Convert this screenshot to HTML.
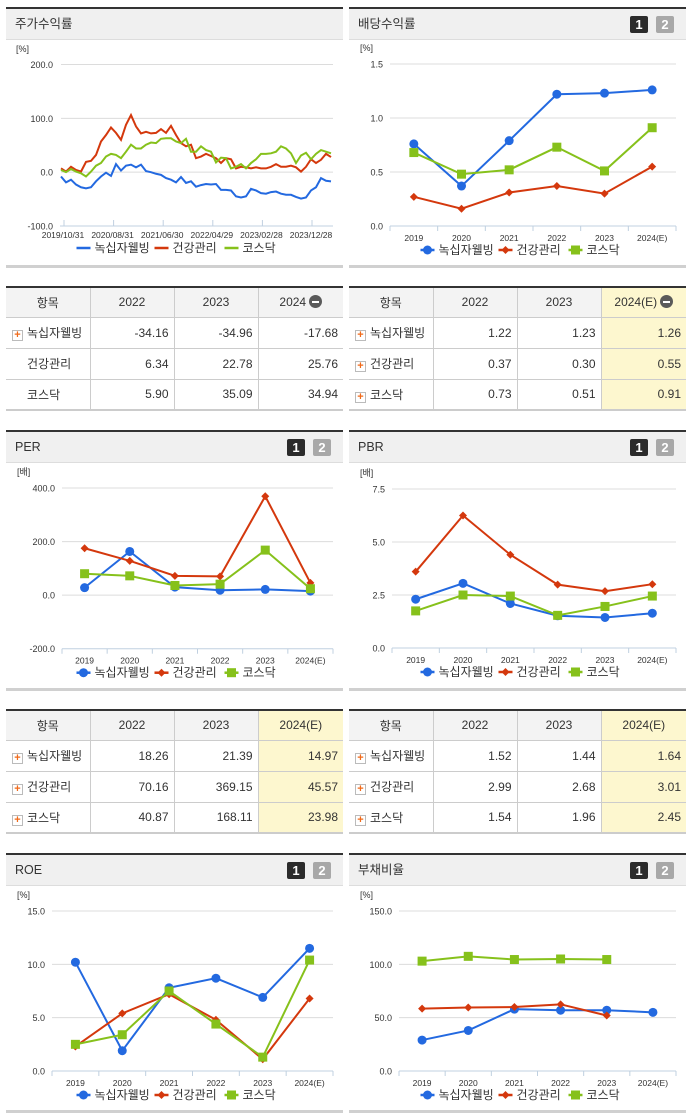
<!DOCTYPE html>
<html><head><meta charset="utf-8">
<style>
*{box-sizing:border-box;margin:0;padding:0}
body{width:691px;height:1115px;background:#fff;position:relative;overflow:hidden;font-family:"Liberation Sans","Noto Sans CJK KR",sans-serif;color:#333}
.hdr{position:absolute;height:33px;background:#f0f0f0;border-top:2px solid #333;border-bottom:1px solid #ddd;font-size:12.5px;line-height:30px;padding-left:9px;color:#333}
.b1,.b2{position:absolute;top:7px;width:18px;height:17px;border-radius:2px;color:#fff;font-size:13px;font-weight:bold;line-height:17px;text-align:center}
.b1{right:38px;background:#2b2b2b}.b2{right:12px;background:#a8a8a8}
.sep{position:absolute;height:3px;background:#d0d0d0}
table{position:absolute;border-collapse:collapse;border-top:2px solid #333;border-bottom:2px solid #ccc;font-size:12px;table-layout:fixed}
th{background:#f3f3f3;font-weight:normal;height:30px;border:1px solid #ccc;border-top:none;text-align:center}
td{height:31px;border:1px solid #ccc;text-align:right;padding-right:5px}
th:first-child,td:first-child{border-left:none}th:last-child,td:last-child{border-right:none}
td.n{text-align:left;padding-left:6px}
.hl{background:#fdf7cf}
.pl{display:inline-block;width:11px;height:11px;border:1px solid #bbb;background:#fff;color:#f06a1a;font-size:11px;line-height:9px;text-align:center;font-weight:bold;vertical-align:-1px;margin-right:4px}
.mi{display:inline-block;width:13px;height:13px;border-radius:50%;background:#5a5a5a;vertical-align:-2px;margin-left:3px;position:relative}
.mi:after{content:"";position:absolute;left:3px;top:5.5px;width:7px;height:2px;background:#fff}
svg{position:absolute;left:0;top:0}
</style></head><body>

<div class="hdr" style="left:6px;top:7px;width:337px">주가수익률</div>
<div class="hdr" style="left:349px;top:7px;width:337px">배당수익률<span class="b1">1</span><span class="b2">2</span></div>
<div class="hdr" style="left:6px;top:430px;width:337px">PER<span class="b1">1</span><span class="b2">2</span></div>
<div class="hdr" style="left:349px;top:430px;width:337px">PBR<span class="b1">1</span><span class="b2">2</span></div>
<div class="hdr" style="left:6px;top:853px;width:337px">ROE<span class="b1">1</span><span class="b2">2</span></div>
<div class="hdr" style="left:349px;top:853px;width:337px">부채비율<span class="b1">1</span><span class="b2">2</span></div>

<div class="sep" style="left:6px;top:265px;width:337px"></div>
<div class="sep" style="left:349px;top:265px;width:337px"></div>
<div class="sep" style="left:6px;top:688px;width:337px"></div>
<div class="sep" style="left:349px;top:688px;width:337px"></div>
<div class="sep" style="left:6px;top:1110px;width:337px"></div>
<div class="sep" style="left:349px;top:1110px;width:337px"></div>

<table style="left:6px;top:286px;width:337px">
<colgroup><col style="width:84px"><col style="width:84px"><col style="width:84px"><col></colgroup>
<tr><th>항목</th><th>2022</th><th>2023</th><th>2024<span class="mi"></span></th></tr>
<tr><td class="n"><span class="pl">+</span>녹십자웰빙</td><td>-34.16</td><td>-34.96</td><td>-17.68</td></tr>
<tr><td class="n" style="padding-left:21px">건강관리</td><td>6.34</td><td>22.78</td><td>25.76</td></tr>
<tr><td class="n" style="padding-left:21px">코스닥</td><td>5.90</td><td>35.09</td><td>34.94</td></tr>
</table>
<table style="left:349px;top:286px;width:337px">
<colgroup><col style="width:84px"><col style="width:84px"><col style="width:84px"><col></colgroup>
<tr><th>항목</th><th>2022</th><th>2023</th><th class="hl">2024(E)<span class="mi"></span></th></tr>
<tr><td class="n"><span class="pl">+</span>녹십자웰빙</td><td>1.22</td><td>1.23</td><td class="hl">1.26</td></tr>
<tr><td class="n"><span class="pl">+</span>건강관리</td><td>0.37</td><td>0.30</td><td class="hl">0.55</td></tr>
<tr><td class="n"><span class="pl">+</span>코스닥</td><td>0.73</td><td>0.51</td><td class="hl">0.91</td></tr>
</table>
<table style="left:6px;top:709px;width:337px">
<colgroup><col style="width:84px"><col style="width:84px"><col style="width:84px"><col></colgroup>
<tr><th>항목</th><th>2022</th><th>2023</th><th class="hl">2024(E)</th></tr>
<tr><td class="n"><span class="pl">+</span>녹십자웰빙</td><td>18.26</td><td>21.39</td><td class="hl">14.97</td></tr>
<tr><td class="n"><span class="pl">+</span>건강관리</td><td>70.16</td><td>369.15</td><td class="hl">45.57</td></tr>
<tr><td class="n"><span class="pl">+</span>코스닥</td><td>40.87</td><td>168.11</td><td class="hl">23.98</td></tr>
</table>
<table style="left:349px;top:709px;width:337px">
<colgroup><col style="width:84px"><col style="width:84px"><col style="width:84px"><col></colgroup>
<tr><th>항목</th><th>2022</th><th>2023</th><th class="hl">2024(E)</th></tr>
<tr><td class="n"><span class="pl">+</span>녹십자웰빙</td><td>1.52</td><td>1.44</td><td class="hl">1.64</td></tr>
<tr><td class="n"><span class="pl">+</span>건강관리</td><td>2.99</td><td>2.68</td><td class="hl">3.01</td></tr>
<tr><td class="n"><span class="pl">+</span>코스닥</td><td>1.54</td><td>1.96</td><td class="hl">2.45</td></tr>
</table>

<svg id="charts" width="691" height="1115"></svg>

<script>
const years = ["2019","2020","2021","2022","2023","2024(E)"];
const seriesNames = ["녹십자웰빙","건강관리","코스닥"];
const colors = ["#2369e0","#d4380d","#86c11b"];

const stockXTicks = ["2019/10/31","2020/08/31","2021/06/30","2022/04/29","2023/02/28","2023/12/28"];
const stockYTicks = ["200.0","100.0","0.0","-100.0"];
const stockBlue = [-8,-19,-14,-23,-28,-30,-28,-17,-8,-1,-7,15,3,12,14,9,14,2,0,-3,-5,-11,-14,-19,-9,-20,-17,-27,-24,-22,-23,-22,-33,-33,-34,-45,-47,-45,-31,-34,-39,-40,-37,-36,-40,-42,-42,-46,-49,-47,-34,-28,-11,-16,-17];
const stockRed = [7,1,10,4,1,19,21,32,57,69,83,73,60,88,106,85,72,75,72,73,80,73,86,69,54,48,51,26,29,34,30,26,17,26,24,7,10,9,7,9,7,7,10,15,10,10,12,9,1,10,24,17,23,34,28];
const stockGreen = [4,0,6,1,-2,-8,1,12,17,29,34,32,26,38,51,44,44,51,55,54,62,63,63,57,54,62,38,38,48,41,38,18,27,26,7,10,15,7,17,24,34,34,35,38,48,44,35,17,31,36,24,34,41,38,35];

const divTicks = [1.5,1.0,0.5,0.0];
const divBlue = [0.76,0.37,0.79,1.22,1.23,1.26];
const divRed = [0.27,0.16,0.31,0.37,0.30,0.55];
const divGreen = [0.68,0.48,0.52,0.73,0.51,0.91];

const perTicks = [400,200,0,-200];
const perBlue = [28,163,30,18.26,21.39,14.97];
const perRed = [175,128,72,70.16,369.15,45.57];
const perGreen = [80,72,36,40.87,168.11,23.98];

const pbrTicks = [7.5,5.0,2.5,0.0];
const pbrBlue = [2.3,3.05,2.1,1.52,1.44,1.64];
const pbrRed = [3.6,6.25,4.4,2.99,2.68,3.01];
const pbrGreen = [1.75,2.5,2.45,1.54,1.96,2.45];

const roeTicks = [15,10,5,0];
const roeBlue = [10.2,1.9,7.8,8.7,6.9,11.5];
const roeRed = [2.3,5.4,7.2,4.8,1.1,6.8];
const roeGreen = [2.5,3.4,7.5,4.4,1.3,10.4];

const debtTicks = [150,100,50,0];
const debtBlue = [29,38,58,57,57,55];
const debtRed = [58.5,59.5,60,62.5,52,null];
const debtGreen = [103,107.5,104.5,105,104.5,null];

const NS = "http://www.w3.org/2000/svg";
const svg = document.getElementById("charts");
function mk(tag, attrs, parent){
  const e = document.createElementNS(NS, tag);
  for (const k in attrs) e.setAttribute(k, attrs[k]);
  (parent||svg).appendChild(e);
  return e;
}
function txt(x,y,s,anchor,size,fill,parent){
  const t = mk("text",{x:x,y:y,"text-anchor":anchor,"font-size":size,fill:fill||"#333","font-family":"Liberation Sans, Noto Sans CJK KR, sans-serif"},parent);
  t.textContent = s;
  return t;
}
function marker(g,i,x,y,big){
  let m;
  if (i===0) m = mk("circle",{cx:x,cy:y,r:big?4.5:4,fill:colors[0]},g);
  else if (i===1) m = mk("path",{d:`M${x} ${y-4}L${x+4} ${y}L${x} ${y+4}L${x-4} ${y}Z`,fill:colors[1]},g);
  else m = mk("rect",{x:x-4.5,y:y-4.5,width:9,height:9,fill:colors[2]},g);
  return m;
}
function legend(cx, y, withMarkers, name){
  const g = mk("g",{});
  
  
  const widths = [78,70,55];
  let total = widths.reduce((a,b)=>a+b,0);
  let x = cx - total/2;
  for (let i=0;i<3;i++){
    const item = mk("g",{},g);
    
    
    mk("line",{x1:x,y1:y-4,x2:x+14,y2:y-4,stroke:colors[i],"stroke-width":2.5},item);
    if (withMarkers) marker(item,i,x+7,y-4,true);
    txt(x+18,y,seriesNames[i],"start",12,"#333",item);
    x += widths[i];
  }
}
function catChart(cfg){
  const g = mk("g",{});
  
  
  const ticks = cfg.ticks, vmax = ticks[0], vmin = ticks[ticks.length-1];
  const yS = v => cfg.top + (vmax - v)/(vmax - vmin)*(cfg.bottom - cfg.top);
  const bw = (cfg.right - cfg.left)/years.length;
  const xS = i => cfg.left + bw*(i+0.5);
  txt(cfg.unitX, cfg.top - 13, cfg.unit, "start", 9, "#333", g);
  ticks.forEach(t=>{
    const y = yS(t);
    if (t!==vmin){
      const gl = mk("line",{x1:cfg.left,y1:y,x2:cfg.right,y2:y,stroke:"#dcdcdc","stroke-width":1},g);
      
      
    }
    const tl = txt(cfg.left-7, y+3.5, t.toFixed(1), "end", 9, "#333", g);
    
    
  });
  mk("line",{x1:cfg.left,y1:cfg.bottom,x2:cfg.right,y2:cfg.bottom,stroke:"#c0d0e0","stroke-width":1},g);
  for (let i=0;i<=years.length;i++){
    const x = cfg.left + bw*i;
    mk("line",{x1:x,y1:cfg.bottom,x2:x,y2:cfg.bottom+5,stroke:"#c0d0e0","stroke-width":1},g);
  }
  years.forEach((yr,i)=>{
    const xl = txt(xS(i), cfg.bottom+15, yr, "middle", 8.5, "#333", g);
    
    
  });
  cfg.series.forEach((data,si)=>{
    const sg = mk("g",{},g);
    
    
    let d = "";
    data.forEach((v,i)=>{ if (v===null) return; d += (d?"L":"M") + xS(i) + " " + yS(v); });
    const ln = mk("path",{d:d,fill:"none",stroke:colors[si],"stroke-width":2},sg);
    
    
    data.forEach((v,i)=>{
      if (v===null) return;
      const m = marker(sg,si,xS(i),yS(v),si===0);
      
      
    });
  });
  legend(cfg.legendX, cfg.bottom+28, true, cfg.name + "-legend");
}

// stock return chart
(function(){
  const g = mk("g",{});
  
  
  const left = 60, right = 333, top = 64.5, bottom = 226;
  const vmax = 200, vmin = -100;
  const yS = v => top + (vmax - v)/(vmax - vmin)*(bottom - top);
  const xS = i => 61 + i*5;
  txt(16, 52, "[%]", "start", 9, "#333", g);
  stockYTicks.forEach(t=>{
    const v = parseFloat(t), y = yS(v);
    if (v!==vmin){
      const gl = mk("line",{x1:left+1,y1:y,x2:right,y2:y,stroke:"#dcdcdc","stroke-width":1},g);
      
      
    }
    const tl = txt(53, y+3.5, t, "end", 9, "#333", g);
    
    
  });
  mk("line",{x1:left,y1:bottom,x2:right,y2:bottom,stroke:"#c0d0e0","stroke-width":1},g);
  stockXTicks.forEach((s,i)=>{
    const x = xS(0) + 3 + i*49.6;
    mk("line",{x1:x,y1:bottom,x2:x,y2:bottom-6,stroke:"#c0d0e0","stroke-width":1},g);
    const xl = txt(x-1, bottom+12, s, "middle", 8.5, "#333", g);
    
    
  });
  [stockBlue, stockRed, stockGreen].forEach((data,si)=>{
    const d = data.map((v,i)=>(i?"L":"M")+xS(i)+" "+yS(v)).join("");
    const ln = mk("path",{d:d,fill:"none",stroke:colors[si],"stroke-width":2},g);
    
    
  });
  legend(178, 252, false, "stock-return-legend");
})();

catChart({name:"dividend-chart",left:390,right:676,top:64,bottom:226,ticks:divTicks,unit:"[%]",unitX:360,series:[divBlue,divRed,divGreen],legendX:522});
catChart({name:"per-chart",left:62,right:333,top:488,bottom:648.7,ticks:perTicks,unit:"[배]",unitX:17,series:[perBlue,perRed,perGreen],legendX:178});
catChart({name:"pbr-chart",left:392,right:676,top:489,bottom:648,ticks:pbrTicks,unit:"[배]",unitX:360,series:[pbrBlue,pbrRed,pbrGreen],legendX:522});
catChart({name:"roe-chart",left:52,right:333,top:911,bottom:1071,ticks:roeTicks,unit:"[%]",unitX:17,series:[roeBlue,roeRed,roeGreen],legendX:178});
catChart({name:"debt-ratio-chart",left:399,right:676,top:911,bottom:1071,ticks:debtTicks,unit:"[%]",unitX:360,series:[debtBlue,debtRed,debtGreen],legendX:522});
</script>
</body></html>
